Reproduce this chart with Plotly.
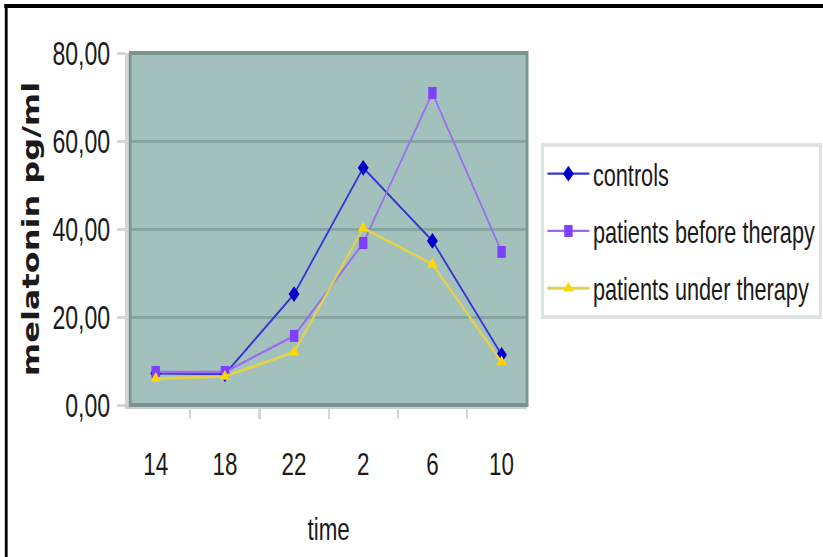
import plotly.graph_objects as go

categories = ["14", "18", "22", "2", "6", "10"]
controls = [7.2, 7.0, 25.2, 53.9, 37.3, 11.4]
before_therapy = [7.5, 7.5, 15.7, 36.8, 70.9, 34.8]
under_therapy = [6.0, 6.5, 12.0, 40.2, 32.0, 9.8]
y_ticks = [0, 20, 40, 60, 80]
y_tick_text = ["0,00", "20,00", "40,00", "60,00", "80,00"]

FONT = "Liberation Sans, Arial, sans-serif"

# The reference is a horizontally squeezed picture: the figure is laid out
# on a wider canvas and compressed horizontally by S when displayed.
S = 0.7
W, H = 823, 557
VW = round(W / S)

def vx(x):
    return x / S

L = vx(130)
R = VW - vx(527)
T, B = 53, 152
pw = VW - L - R
ph = H - T - B

def px(x):
    return (vx(x) - L) / pw

def py(y):
    return (H - B - y) / ph

fig = go.Figure()
fig.add_trace(go.Scatter(
    x=categories, y=controls, name="controls", mode="lines+markers",
    line=dict(color="#3434D4", width=2.3),
    marker=dict(symbol="diamond", size=12, color="#0000C8"),
    legendgroup="a"))
fig.add_trace(go.Scatter(
    x=categories, y=before_therapy, name="patients before therapy", mode="lines+markers",
    line=dict(color="#9A6CF2", width=2.3),
    marker=dict(symbol="square", size=12, color="#7F3FFF"),
    legendgroup="b"))
fig.add_trace(go.Scatter(
    x=categories, y=under_therapy, name="patients under therapy", mode="lines+markers",
    line=dict(color="#E4D24C", width=2.8),
    marker=dict(symbol="triangle-up", size=13, color="#FFD700"),
    legendgroup="c"))

fig.update_layout(
    width=VW, height=H,
    margin=dict(l=L, r=R, t=T, b=B, autoexpand=False),
    paper_bgcolor="white",
    plot_bgcolor="#A3C1BC",
    font=dict(family=FONT, size=30, color="#1a1a1a"),
    showlegend=True,
    legend=dict(
        x=px(541), y=py(143), xanchor="left", yanchor="top",
        bgcolor="white", bordercolor="#E0E3E3", borderwidth=4,
        font=dict(family=FONT, size=31, color="#1a1a1a"),
        traceorder="grouped", tracegroupgap=14,
        itemwidth=60,
    ),
    xaxis=dict(
        type="category", tickson="boundaries",
        ticks="outside", ticklen=10, tickwidth=3, tickcolor="#D2D6D6",
        showline=True, linecolor="#C8CDCD", linewidth=4,
        showgrid=False, zeroline=False,
        ticklabelstandoff=28,
        tickfont=dict(family=FONT, size=32, color="#1a1a1a"),
        title=dict(text="time", font=dict(family=FONT, size=32, color="#1a1a1a"), standoff=37),
        automargin=False,
    ),
    yaxis=dict(
        range=[0, 80], tickvals=y_ticks, ticktext=y_tick_text,
        ticks="outside", ticklen=11, tickwidth=3, tickcolor="#D2D6D6",
        showline=True, linecolor="#D2D6D6", linewidth=8,
        showgrid=True, gridcolor="#88A6A1", gridwidth=3,
        zeroline=False,
        ticklabelstandoff=3,
        tickfont=dict(family=FONT, size=33, color="#1a1a1a"),
        title=dict(text="<b>melatonin pg/ml</b>",
                   font=dict(family="DejaVu Sans, sans-serif", size=32, color="#1a1a1a"),
                   standoff=12),
        automargin=False,
    ),
    shapes=[
        dict(type="rect", xref="paper", yref="paper", x0=0, x1=1, y0=0, y1=1,
             line=dict(color="#7A9490", width=4), layer="above"),
        dict(type="line", xref="paper", yref="paper", x0=px(4), x1=px(823), y0=py(6), y1=py(6),
             line=dict(color="black", width=4)),
        dict(type="line", xref="paper", yref="paper", x0=px(6), x1=px(6), y0=py(4), y1=py(557),
             line=dict(color="black", width=4)),
    ],
)

post = """
var gd = document.getElementById('{plot_id}');
gd.style.transformOrigin = '0 0';
gd.style.transform = 'scaleX(%s)';
document.documentElement.style.overflow = 'hidden';
document.body.style.overflow = 'hidden';
""" % S

fig.write_html("out.html", post_script=post)
